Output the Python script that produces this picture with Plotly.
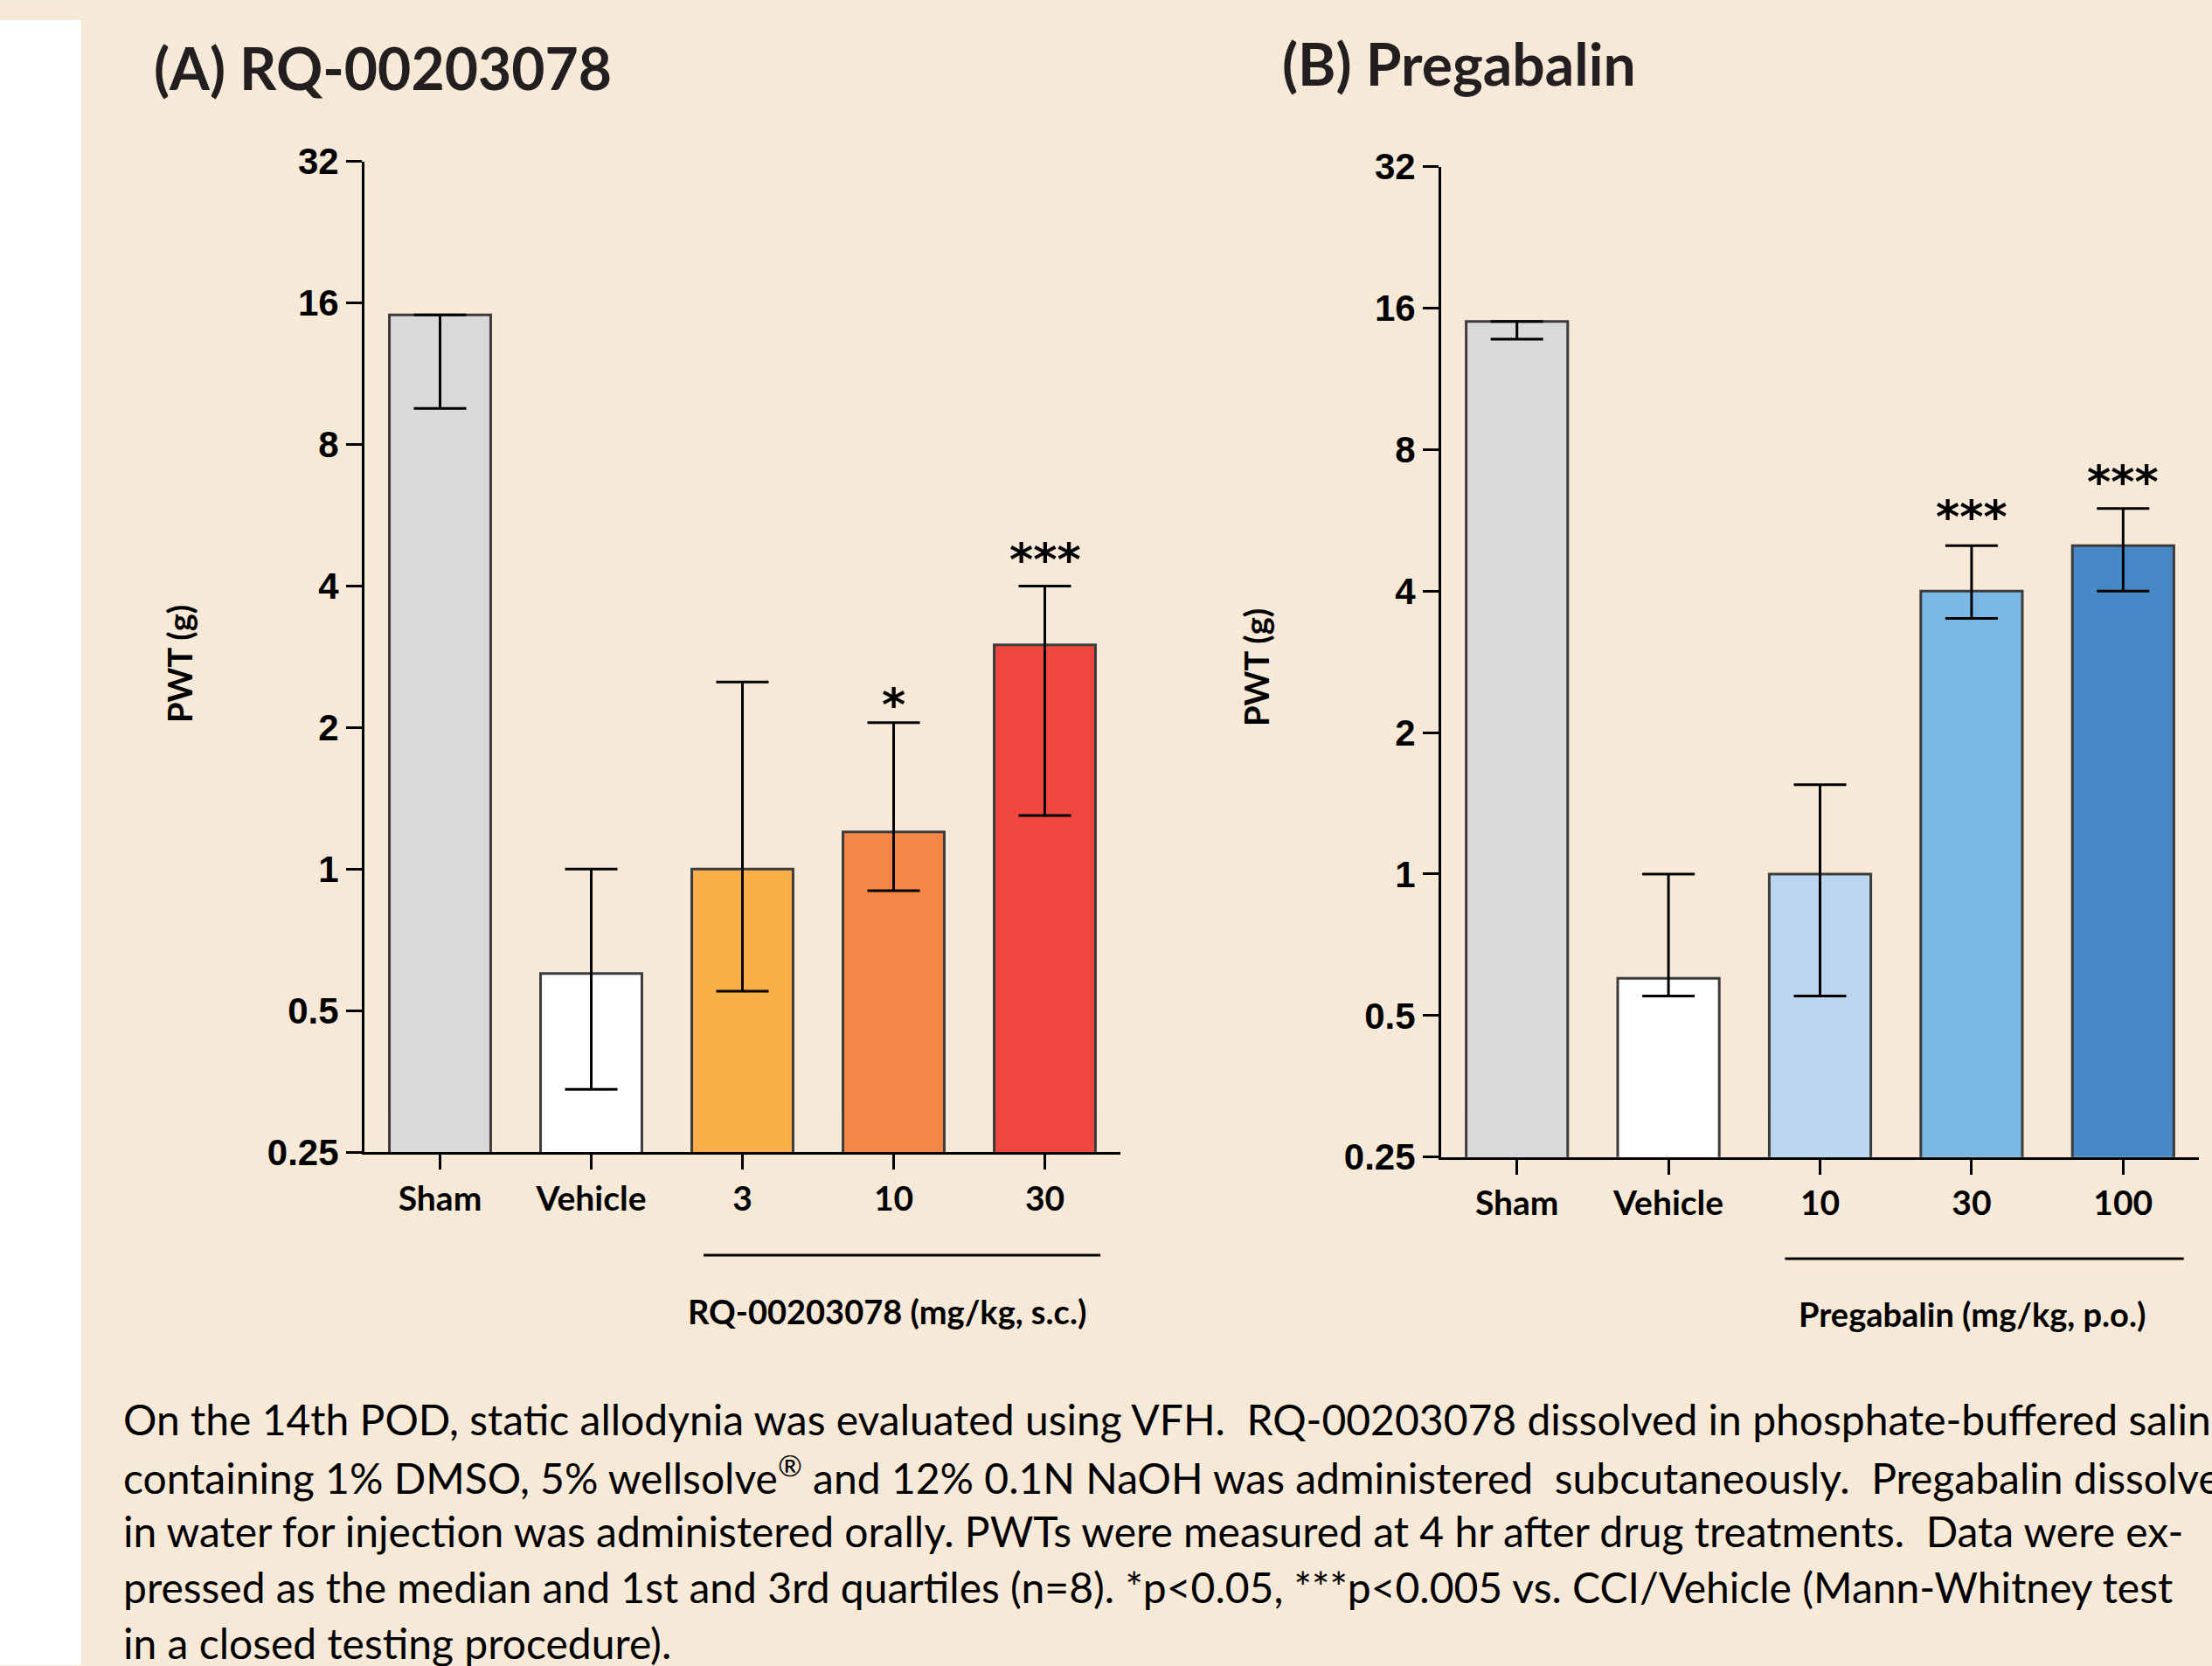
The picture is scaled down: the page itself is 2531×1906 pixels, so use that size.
import math
import plotly.graph_objects as go

W, H = 2531, 1906
# The page is photographed with a small vertical offset/squash (measured:
# out_y ~= 22 + 0.977 * page_y); positions below are given in reference
# pixels and converted to figure pixels with fy().
Y_OFF, Y_SC = 22.0, 0.977
H_FIG = round((H - Y_OFF) / Y_SC) + 1

# ---------------- data ----------------
cats_a = ["Sham", "Vehicle", "3", "10", "30"]
median_a = [15.1, 0.60, 1.0, 1.2, 3.0]
q1_a = [9.55, 0.34, 0.55, 0.90, 1.30]
q3_a = [15.1, 1.0, 2.5, 2.05, 4.0]
colors_a = ["#D9D9DB", "#FFFFFF", "#F9AE48", "#F48746", "#EF473D"]
stars_a = {"10": "*", "30": "***"}

cats_b = ["Sham", "Vehicle", "10", "30", "100"]
median_b = [15.0, 0.60, 1.0, 4.0, 5.0]
q1_b = [13.75, 0.55, 0.55, 3.5, 4.0]
q3_b = [15.0, 1.0, 1.55, 5.0, 6.0]
colors_b = ["#D9D9DB", "#FFFFFF", "#BAD7EF", "#7CB8E4", "#4689C6"]
stars_b = {"30": "***", "100": "***"}

y_ticks = [0.25, 0.5, 1, 2, 4, 8, 16, 32]
y_ticktext = ["0.25", "0.5", "1", "2", "4", "8", "16", "32"]

caption_lines = [
    "On the 14th POD, static allodynia was evaluated using VFH.  RQ-00203078 dissolved in phosphate-buffered saline",
    "containing 1% DMSO, 5% wellsolve<sup>®</sup> and 12% 0.1N NaOH was administered  subcutaneously.  Pregabalin dissolved",
    "in water for injection was administered orally. PWTs were measured at 4 hr after drug treatments.  Data were ex-",
    "pressed as the median and 1st and 3rd quartiles (n=8). *p&lt;0.05, ***p&lt;0.005 vs. CCI/Vehicle (Mann-Whitney test",
    "in a closed testing procedure).",
]

BG = "#F7E9D7"
TXT = "Lato, Roboto, sans-serif"
TICKF = "Liberation Sans, Arial, sans-serif"


def px(x):
    return x / W


def fy(y):
    return (y - Y_OFF) / Y_SC


def py(y):
    return 1 - fy(y) / H_FIG


fig = go.Figure()


def add_panel(cats, med, lo, hi, colors, xa, ya):
    fig.add_trace(go.Bar(
        x=cats, y=med,
        marker=dict(color=colors, line=dict(color="#3C3C3C", width=3)),
        width=0.67,
        error_y=dict(type="data", symmetric=False,
                     array=[h - m for h, m in zip(hi, med)],
                     arrayminus=[m - l for m, l in zip(med, lo)],
                     color="black", thickness=3, width=30),
        xaxis=xa, yaxis=ya, showlegend=False, hoverinfo="skip",
    ))


add_panel(cats_a, median_a, q1_a, q3_a, colors_a, "x", "y")
add_panel(cats_b, median_b, q1_b, q3_b, colors_b, "x2", "y2")

xax = dict(type="category", range=[-0.5, 4.5], showline=True, linecolor="black",
           linewidth=3, ticks="outside", ticklen=17, tickwidth=2.5, tickcolor="black",
           showgrid=False, zeroline=False,
           tickfont=dict(family=TXT, size=39, color="black", weight="bold"))
yax = dict(type="log", range=[math.log10(0.25), math.log10(32)], tickvals=y_ticks, ticktext=y_ticktext,
           showline=True, linecolor="black", linewidth=3, ticks="outside", ticklen=18,
           tickwidth=3, tickcolor="black", showgrid=False, zeroline=False,
           tickfont=dict(family=TICKF, size=42, color="black", weight="bold"))

fig.update_layout(
    width=W, height=H_FIG, autosize=False,
    margin=dict(l=0, r=0, t=0, b=0, pad=0),
    paper_bgcolor=BG, plot_bgcolor=BG,
    xaxis=dict(xax, domain=[px(417), px(1282)], anchor="y"),
    yaxis=dict(yax, domain=[py(1319), py(184)], anchor="x"),
    xaxis2=dict(xax, domain=[px(1649), px(2516)], anchor="y2"),
    yaxis2=dict(yax, domain=[py(1324.5), py(190)], anchor="x2"),
)

# white strip on the left
fig.add_shape(type="rect", xref="paper", yref="paper", x0=0, x1=px(93), y0=0, y1=1,
              fillcolor="white", line=dict(width=0), layer="below")

ann = []
ann.append(dict(text="<b>(A) RQ-00203078</b>", x=px(174), y=py(77), xanchor="left", yanchor="middle",
                font=dict(family=TXT, size=66, color="#231F20")))
ann.append(dict(text="<b>(B) Pregabalin</b>", x=px(1465), y=py(72), xanchor="left", yanchor="middle",
                font=dict(family=TXT, size=66, color="#231F20")))
for xx, yy in [(205, 760), (1437, 764)]:
    ann.append(dict(text="<b>PWT (g)</b>", x=px(xx), y=py(yy), textangle=-90,
                    xanchor="center", yanchor="middle",
                    font=dict(family=TXT, size=38, color="black")))
ann.append(dict(text="<b>RQ-00203078 (mg/kg, s.c.)</b>", x=px(1015), y=py(1501),
                xanchor="center", yanchor="middle", font=dict(family=TXT, size=38, color="black")))
ann.append(dict(text="<b>Pregabalin (mg/kg, p.o.)</b>", x=px(2256), y=py(1504),
                xanchor="center", yanchor="middle", font=dict(family=TXT, size=38, color="black")))

star_shift_a = {"10": 21, "30": 31}
star_shift_b = {"30": 33, "100": 31}
for cats, hi, stars, shifts, xr, yr in [(cats_a, q3_a, stars_a, star_shift_a, "x", "y"),
                                        (cats_b, q3_b, stars_b, star_shift_b, "x2", "y2")]:
    for c, s in stars.items():
        i = cats.index(c)
        ann.append(dict(text=s, x=i, y=math.log10(hi[i]), xref=xr, yref=yr,
                        xanchor="center", yanchor="middle", yshift=shifts[c],
                        font=dict(family="DejaVu Sans", size=52, color="black", weight="bold")))

for k, line in enumerate(caption_lines):
    ann.append(dict(text=line, x=px(139), y=py(1625 + 64 * k), xanchor="left", yanchor="middle",
                    font=dict(family=TXT, size=48, color="black")))

for a in ann:
    a.setdefault("xref", "paper")
    a.setdefault("yref", "paper")
    a["showarrow"] = False
    fig.add_annotation(**a)

fig.add_shape(type="line", xref="x", yref="paper", x0=1.743, x1=4.368, y0=py(1437), y1=py(1437),
              line=dict(color="black", width=3))
fig.add_shape(type="line", xref="x2", yref="paper", x0=1.769, x1=4.40, y0=py(1441), y1=py(1441),
              line=dict(color="black", width=3))

grad = "linear-gradient(to right, #FFFFFF 93px, %s 93px)" % BG
post = (
    "document.documentElement.style.margin='0';"
    "document.documentElement.style.overflow='hidden';"
    "document.documentElement.style.background='%s';"
    "document.body.style.margin='0';document.body.style.overflow='hidden';"
    "document.body.style.background='%s';"
    "var d=document.getElementsByClassName('plotly-graph-div')[0];"
    "d.style.position='absolute';d.style.left='0px';d.style.top='0px';"
) % (grad, grad)
fig.write_html("out.html", config={"displayModeBar": False, "responsive": False},
               post_script=post)
